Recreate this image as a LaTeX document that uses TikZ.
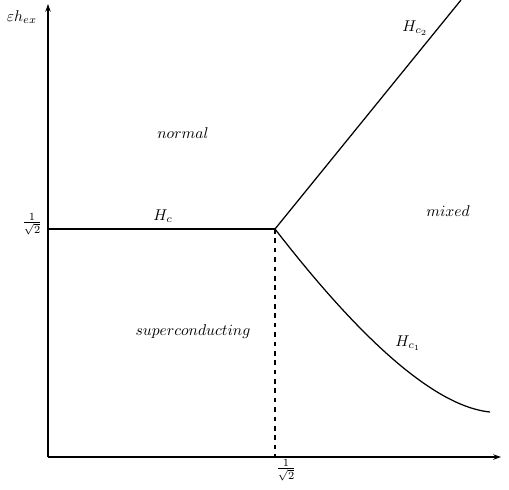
\documentclass[tikz,border=0pt]{standalone}
\usetikzlibrary{arrows.meta}
\begin{document}
\begin{tikzpicture}[x=0.64pt,y=-0.64pt,
  ax/.style={line width=0.8pt,-{Stealth[length=5pt,width=3.5pt]}},
  bd/.style={line width=0.8pt},
  lbl/.style={inner sep=0pt}]
\useasboundingbox (0,0) rectangle (509,489);
\begin{scope}
\clip (0,0) rectangle (509,489);
\coordinate (O) at (48,457);
\coordinate (P) at (275,229);
\coordinate (L) at (48,229);
\coordinate (Q) at (275,457);
\coordinate (T) at (461,0);
\coordinate (E) at (490,412);
\coordinate (XE) at (501,457);
\coordinate (YE) at (48,4);
\draw[ax] (O) -- (XE);
\draw[ax] (O) -- (YE);
\draw[bd] (L) -- (P);
\draw[bd,dashed] (P) -- (Q);
\draw[bd] (P) -- (T);
\draw[bd] (P) .. controls (330,300) and (420,405) .. (E);
\node[lbl] (yl) at (22,17) {$\varepsilon h_{ex}$};
\node[lbl] (xl) at (516,460) {$\frac{1}{\kappa}$};
\node[lbl] (yt) at (32,224) {$\frac{1}{\sqrt2}$};
\node[lbl] (xt) at (286,470) {$\frac{1}{\sqrt2}$};
\node[lbl] (n) at (183,133) {$normal$};
\node[lbl] (hc) at (163,216) {$H_c$};
\node[lbl] (m) at (448,211) {$mixed$};
\node[lbl] (s) at (193,332) {$superconducting$};
\node[lbl] (h1) at (408,343) {$H_{c_1}$};
\node[lbl] (h2) at (415,28) {$H_{c_2}$};
\end{scope}
\end{tikzpicture}
\end{document}
